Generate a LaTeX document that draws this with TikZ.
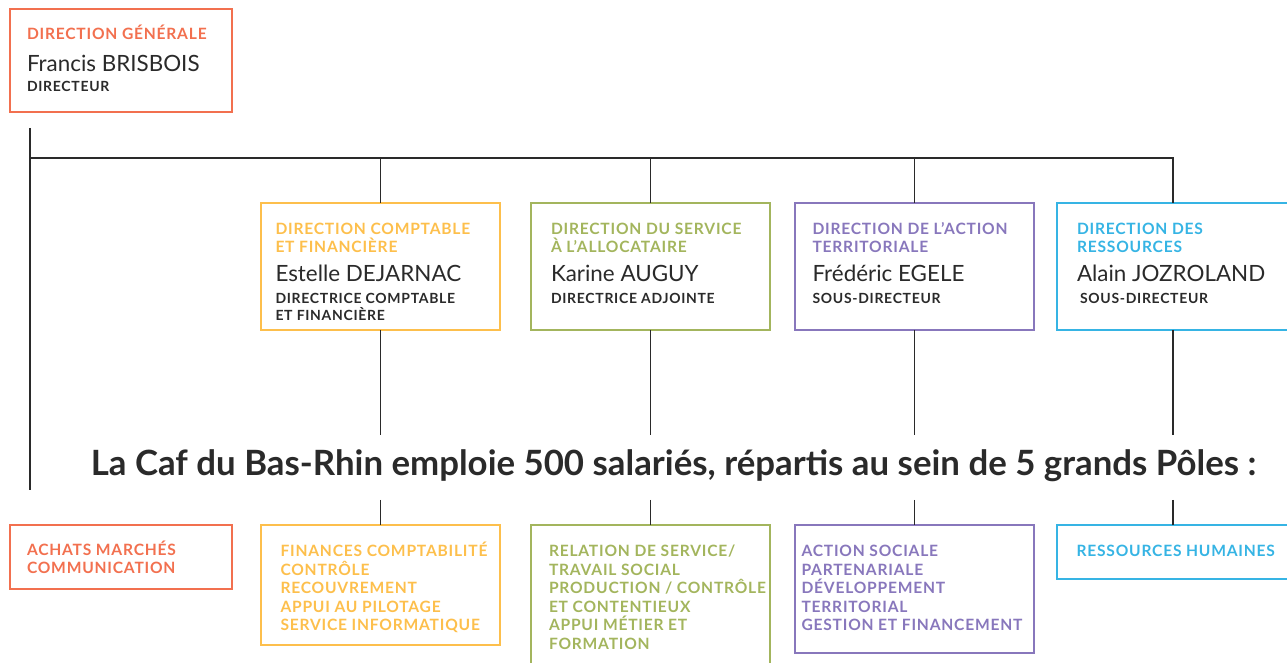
\documentclass[tikz,border=0pt]{standalone}
\usepackage{fontspec}
\setmainfont{Lato}
\newfontfamily\capsfont{Lato}[LetterSpace=5.0]
\usetikzlibrary{calc}

\definecolor{cafrouge}{HTML}{F2704F}
\definecolor{cafjaune}{HTML}{FDBF4C}
\definecolor{cafvert}{HTML}{A3B55D}
\definecolor{cafviolet}{HTML}{8877BC}
\definecolor{cafbleu}{HTML}{36B4E4}
\definecolor{cafnoir}{HTML}{2A2A2A}

\begin{document}
\begin{tikzpicture}[x=0.5pt,y=-0.5pt]
        \tikzstyle{every node}=[inner sep=0pt, outer sep=0pt]
        \tikzstyle{boite}=[draw, line width=1pt, anchor=north west]
        % base = ligne du bas pour les textes sur plusieurs lignes
        \tikzstyle{tete}=[anchor=base west, align=left, font=\capsfont\bfseries\fontsize{7.8}{9.25}\selectfont]
        \tikzstyle{nom}=[anchor=base west, text=cafnoir, font=\fontsize{11.2}{13}\selectfont]
        \tikzstyle{fonction}=[anchor=base west, align=left, text=cafnoir, font=\capsfont\bfseries\fontsize{7}{8.5}\selectfont]
        \tikzstyle{trait}=[draw=cafnoir, line width=0.75pt]

        \useasboundingbox (0,0) rectangle (1287,663);

        % direction generale
        \node[boite, draw=cafrouge, minimum width=111pt, minimum height=51.5pt] (dg) at (10,9) {};
        \node[tete, text=cafrouge] (dgtete) at (27,39.5) {DIRECTION GÉNÉRALE};
        \node[nom] (dgnom) at (27,71.5) {Francis BRISBOIS};
        \node[fonction] (dgfonction) at (27,92) {DIRECTEUR};

        % directions
        \node[boite, draw=cafjaune, minimum width=119.5pt, minimum height=63.5pt] (dir1) at (261,203) {};
        \node[boite, draw=cafvert, minimum width=119.5pt, minimum height=63.5pt] (dir2) at (531,203) {};
        \node[boite, draw=cafviolet, minimum width=119.5pt, minimum height=63.5pt] (dir3) at (795,203) {};
        \node[boite, draw=cafbleu, minimum width=116pt, minimum height=63.5pt] (dir4) at (1057,203) {};

        \node[tete, text=cafjaune] (dir1tete) at (275.5,253) {DIRECTION COMPTABLE\\ET FINANCIÈRE};
        \node[nom] (dir1nom) at (275.5,282) {Estelle DEJARNAC};
        \node[fonction] (dir1fonction) at (275.5,321) {DIRECTRICE COMPTABLE\\ET FINANCIÈRE};

        \node[tete, text=cafvert] (dir2tete) at (551,253) {DIRECTION DU SERVICE\\À L’ALLOCATAIRE};
        \node[nom] (dir2nom) at (551,282) {Karine AUGUY};
        \node[fonction] (dir2fonction) at (551,304) {DIRECTRICE ADJOINTE};

        \node[tete, text=cafviolet] (dir3tete) at (812.5,253) {DIRECTION DE L’ACTION\\TERRITORIALE};
        \node[nom] (dir3nom) at (812.5,282) {Frédéric EGELE};
        \node[fonction] (dir3fonction) at (812.5,304) {SOUS-DIRECTEUR};

        \node[tete, text=cafbleu] (dir4tete) at (1077,253) {DIRECTION DES\\RESSOURCES};
        \node[nom] (dir4nom) at (1077,282) {Alain JOZROLAND};
        \node[fonction] (dir4fonction) at (1080,304) {SOUS-DIRECTEUR};

        % texte central
        \node[anchor=base, text=cafnoir, font=\bfseries\fontsize{17.4}{20}\selectfont,
              text height=20.5pt, text depth=12pt] (titre) at (673.5,476)
              {La Caf du Bas-Rhin emploie 500 salariés, répartis au sein de 5 grands Pôles :};

        % poles
        \node[boite, draw=cafrouge, minimum width=111pt, minimum height=32pt] (pole0) at (10,525) {};
        \node[boite, draw=cafjaune, minimum width=119.5pt, minimum height=60pt] (pole1) at (261,525) {};
        \node[boite, draw=cafvert, minimum width=119.5pt, minimum height=75pt] (pole2) at (531,525) {};
        \node[boite, draw=cafviolet, minimum width=119.5pt, minimum height=64pt] (pole3) at (795,525) {};
        \node[boite, draw=cafbleu, minimum width=116pt, minimum height=27pt] (pole4) at (1057,525) {};

        \node[tete, text=cafrouge] (pole0texte) at (27,574) {ACHATS MARCHÉS\\COMMUNICATION};
        \node[tete, text=cafjaune] (pole1texte) at (280.5,630.5) {FINANCES COMPTABILITÉ\\CONTRÔLE\\RECOUVREMENT\\APPUI AU PILOTAGE\\SERVICE INFORMATIQUE};
        \node[tete, text=cafvert] (pole2texte) at (549,649) {RELATION DE SERVICE/\\TRAVAIL SOCIAL\\PRODUCTION / CONTRÔLE\\ET CONTENTIEUX\\APPUI MÉTIER ET\\FORMATION};
        \node[tete, text=cafviolet] (pole3texte) at (801.5,630.5) {ACTION SOCIALE\\PARTENARIALE\\DÉVELOPPEMENT\\TERRITORIAL\\GESTION ET FINANCEMENT};
        \node[tete, text=cafbleu] (pole4texte) at (1076.5,556.5) {RESSOURCES HUMAINES};

        % liaisons
        \coordinate (depart) at (30,128);
        \coordinate (fin) at (30,490);
        \coordinate (bus) at (30,158);
        \draw[trait] (depart) -- (fin);
        \draw[trait] (bus) -| (dir4.north);
        \foreach \i in {1,2,3} {
            \draw[trait] (dir\i.north) -- (dir\i.north |- bus);
        }
        \foreach \i in {1,2,3,4} {
            \draw[trait] (dir\i.south) -- (dir\i.south |- titre.north);
            \draw[trait] (pole\i.north |- titre.south) -- (pole\i.north);
        }

\end{tikzpicture}
\end{document}
